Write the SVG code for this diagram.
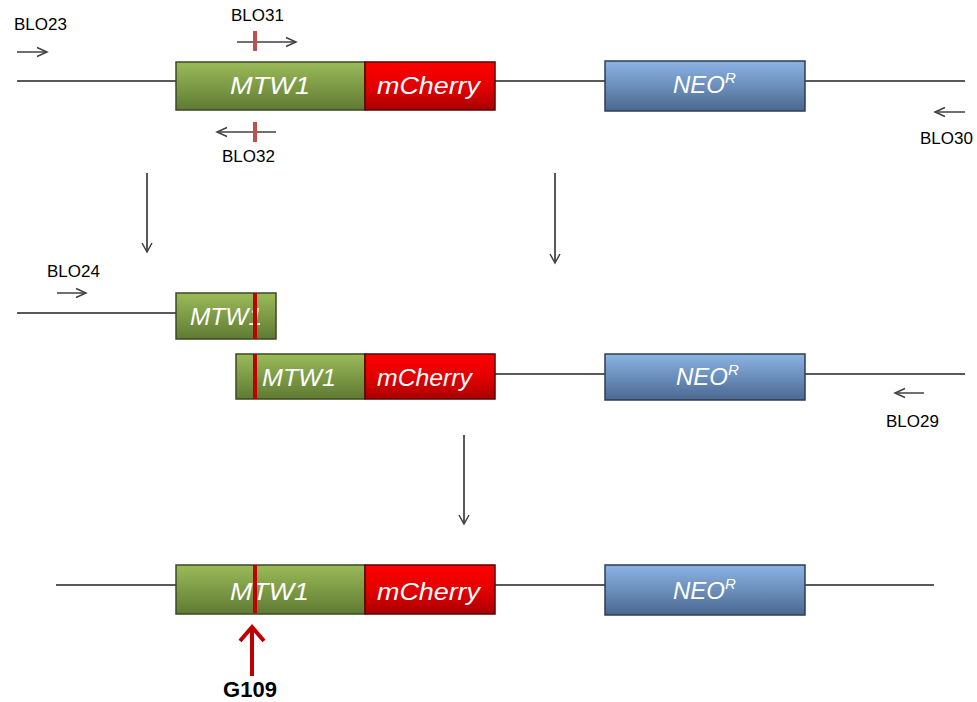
<svg xmlns="http://www.w3.org/2000/svg" width="977" height="702" viewBox="0 0 977 702">
<defs>
<linearGradient id="gGreen" x1="0" y1="0" x2="0" y2="1"><stop offset="0" stop-color="#9bbb59"/><stop offset="1" stop-color="#5f7a32"/></linearGradient>
<linearGradient id="gRed" x1="0" y1="0" x2="0" y2="1"><stop offset="0" stop-color="#ff0000"/><stop offset="0.55" stop-color="#e00000"/><stop offset="1" stop-color="#a80000"/></linearGradient>
<linearGradient id="gBlue" x1="0" y1="0" x2="0" y2="1"><stop offset="0" stop-color="#8cb4e4"/><stop offset="1" stop-color="#4a6891"/></linearGradient>
<marker id="ah" markerWidth="12" markerHeight="12" refX="10" refY="6" orient="auto" markerUnits="userSpaceOnUse"><path d="M1,1 L10,6 L1,11" fill="none" stroke="#404040" stroke-width="1.5"/></marker>
<marker id="ahs" markerWidth="14" markerHeight="12" refX="12" refY="6" orient="auto" markerUnits="userSpaceOnUse"><path d="M2,1.5 L12,6 L2,10.5" fill="none" stroke="#404040" stroke-width="1.5"/></marker>
</defs>
<style>
.dna{stroke:#595959;stroke-width:2;fill:none}
.gr{fill:url(#gGreen);stroke:#3b4a22;stroke-width:1.5}
.rd{fill:url(#gRed);stroke:#5a0000;stroke-width:1.5}
.bl{fill:url(#gBlue);stroke:#2e3d52;stroke-width:1.5}
.gt{font-family:"Liberation Sans",Arial,sans-serif;font-style:italic;font-size:24px;fill:#ffffff}
.lb{font-family:"Liberation Sans",Arial,sans-serif;font-size:17px;fill:#000}
.pr{stroke:#404040;stroke-width:1.5;fill:none;marker-end:url(#ahs)}
.tick{stroke:#c0504d;stroke-width:4}
.mut{stroke:#c00000;stroke-width:4}
.step{stroke:#595959;stroke-width:2;fill:none;marker-end:url(#ah)}
</style>

<g id="connectors">
<line class="step" x1="147" y1="173" x2="147" y2="252"/>
<line class="step" x1="555" y1="173" x2="555" y2="263"/>
<line class="step" x1="464" y1="435" x2="464" y2="524"/>
</g>

<g id="row1">
<line class="dna" x1="17" y1="81" x2="176" y2="81"/>
<line class="dna" x1="495" y1="81" x2="605" y2="81"/>
<line class="dna" x1="805" y1="81" x2="965" y2="81"/>
<g id="r1-mtw1"><rect class="gr" x="176" y="62" width="189" height="48"/><text class="gt" x="230" y="94" textLength="80" lengthAdjust="spacingAndGlyphs">MTW1</text></g>
<g id="r1-mcherry"><rect class="rd" x="365" y="62" width="130" height="48"/><text class="gt" x="377" y="94" textLength="103" lengthAdjust="spacingAndGlyphs">mCherry</text></g>
<g id="r1-neo"><rect class="bl" x="605" y="61" width="200" height="50"/><text class="gt" x="673" y="93">NEO<tspan font-size="15" dy="-10">R</tspan></text></g>
<g id="blo23"><text class="lb" x="14" y="30">BLO23</text><line class="pr" x1="17" y1="52" x2="47" y2="52"/></g>
<g id="blo31"><text class="lb" x="231" y="21">BLO31</text><line class="pr" x1="237" y1="42" x2="296" y2="42"/><line class="tick" x1="255" y1="31" x2="255" y2="51"/></g>
<g id="blo32"><text class="lb" x="222" y="162">BLO32</text><line class="pr" x1="276" y1="132" x2="217" y2="132"/><line class="tick" x1="255" y1="122" x2="255" y2="142"/></g>
<g id="blo30"><text class="lb" x="920" y="144">BLO30</text><line class="pr" x1="965" y1="112" x2="935" y2="112"/></g>
</g>

<g id="row2">
<line class="dna" x1="17" y1="313" x2="176" y2="313"/>
<g id="r2-mtw1-frag"><rect class="gr" x="176" y="293" width="100" height="46"/><text class="gt" x="190" y="325" textLength="72" lengthAdjust="spacingAndGlyphs">MTW1</text><line class="mut" x1="255" y1="293" x2="255" y2="339"/></g>
<g id="blo24"><text class="lb" x="47" y="277">BLO24</text><line class="pr" x1="57" y1="293" x2="86" y2="293"/></g>
</g>

<g id="row2b">
<line class="dna" x1="495" y1="374" x2="605" y2="374"/>
<line class="dna" x1="805" y1="374" x2="965" y2="374"/>
<g id="r2b-mtw1"><rect class="gr" x="236" y="354" width="129" height="45"/><line class="mut" x1="255" y1="354" x2="255" y2="399"/><text class="gt" x="262" y="386" textLength="74" lengthAdjust="spacingAndGlyphs">MTW1</text></g>
<g id="r2b-mcherry"><rect class="rd" x="365" y="354" width="130" height="45"/><text class="gt" x="377" y="386" textLength="95" lengthAdjust="spacingAndGlyphs">mCherry</text></g>
<g id="r2b-neo"><rect class="bl" x="605" y="354" width="200" height="46"/><text class="gt" x="676" y="385">NEO<tspan font-size="15" dy="-10">R</tspan></text></g>
<g id="blo29"><text class="lb" x="886" y="427">BLO29</text><line class="pr" x1="924" y1="393" x2="895" y2="393"/></g>
</g>

<g id="row3">
<line class="dna" x1="56" y1="585" x2="176" y2="585"/>
<line class="dna" x1="495" y1="585" x2="605" y2="585"/>
<line class="dna" x1="805" y1="585" x2="934" y2="585"/>
<g id="r3-mtw1"><rect class="gr" x="176" y="565" width="189" height="49"/><text class="gt" x="230" y="600" textLength="79" lengthAdjust="spacingAndGlyphs">MTW1</text><line class="mut" x1="255" y1="565" x2="255" y2="613"/></g>
<g id="r3-mcherry"><rect class="rd" x="365" y="565" width="130" height="49"/><text class="gt" x="377" y="600" textLength="103" lengthAdjust="spacingAndGlyphs">mCherry</text></g>
<g id="r3-neo"><rect class="bl" x="605" y="565" width="200" height="50"/><text class="gt" x="673" y="599">NEO<tspan font-size="15" dy="-10">R</tspan></text></g>
<g id="g109"><line stroke="#c00000" stroke-width="4" x1="252" y1="676" x2="252" y2="629"/><path d="M240,641 L252,627 L264,641" fill="none" stroke="#c00000" stroke-width="4"/><text x="250" y="697" text-anchor="middle" font-family="Liberation Sans,Arial,sans-serif" font-weight="bold" font-size="22" fill="#000">G109</text></g>
</g>
</svg>
